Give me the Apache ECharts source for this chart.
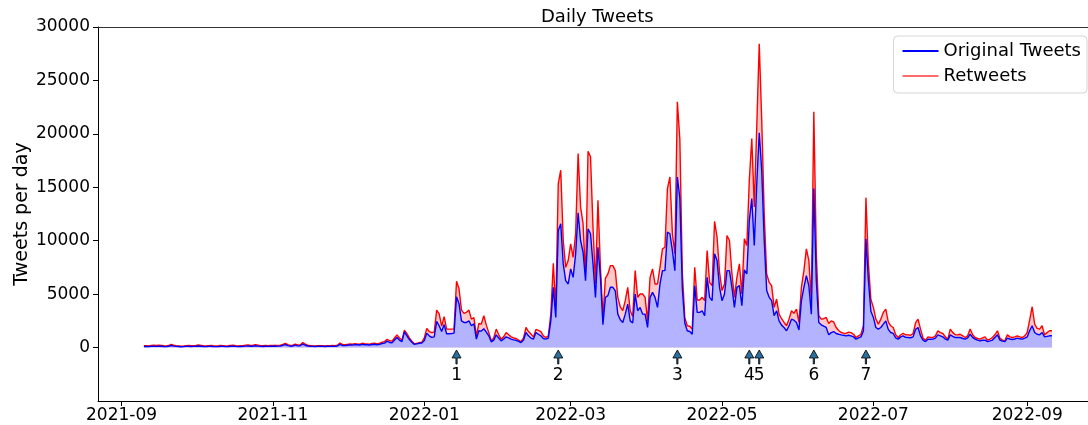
<!DOCTYPE html>
<html>
<head>
<meta charset="utf-8">
<script src="https://cdn.jsdelivr.net/npm/echarts@6/dist/echarts.min.js"></script>
<style>
html,body{margin:0;padding:0;background:#fff;}
#chart{width:1088px;height:425px;}
</style>
</head>
<body>
<div id="chart"></div>
<script>
// ---- data (daily, starting 2021-09-10) ----
const startDate = '2021-09-10';

// Original tweets per day (blue line)
const originalSep21 = [100,110,90,120,130,110,140,130,100,90,120,190,140,110,100,80,90,110,120,100,110];
const originalOct21 = [120,150,130,100,90,110,130,100,90,100,120,110,90,100,120,130,110,90,100,110,140,150,120,130,170,140,110,100,120,110,130];
const originalNov21 = [130,120,140,150,200,280,180,130,150,230,160,170,330,220,150,120,110,100,110,120,110,100,120,110,130,110,150,300,200,180];
const originalDec21 = [220,250,230,280,260,240,300,270,260,240,290,310,260,300,380,420,600,480,450,700,940,700,560,1470,1100,750,500,300,350,400,420];
const originalJan22 = [650,1350,1100,950,1000,2450,2040,1500,2150,1290,1300,1320,1350,4760,4100,2500,2350,2350,2500,2040,2230,790,1570,1540,1760,1450,1100,540,700,1190,900];
const originalFeb22 = [630,800,1000,900,790,720,680,580,470,700,1410,1100,890,800,1400,1250,1100,850,790,880,2500,5640,2820,10960,11590,7830,6260,5950];
const originalMar22 = [7360,6570,8770,12620,10020,8920,6260,11120,10650,7830,4700,9390,6570,2130,4700,4860,5640,5640,5300,3130,2600,2350,3130,4070,2500,2300,5010,3450,3760,3130,3130];
const originalApr22 = [1880,4700,5170,4700,3760,5950,7200,7200,10800,10650,9080,7200,15970,14000,5500,2300,1570,1500,1250,5790,3290,3290,3450,2980,6570,4700,4390,8770,8140,5640];
const originalMay22 = [4390,5010,7200,7200,5640,3760,5640,5790,3920,7270,6890,11900,13940,9550,15350,20100,16600,10020,5330,4700,4390,2980,3450,2500,2100,1880,1570,2040,2660,2560,2350];
const originalJun22 = [1650,4390,5640,6730,5790,3130,14880,6260,2350,2130,2000,1880,1190,1400,1500,1320,1250,1190,1150,1100,1150,1100,1000,790,900,1000,1570,10180,6260,3400];
const originalJul22 = [2820,1880,1730,1880,2190,2500,1700,1410,1320,900,790,1000,1100,950,940,920,1000,1700,1880,1100,700,560,790,780,790,880,1190,1100,1000,800,700];
const originalAug22 = [1190,1050,940,940,940,850,790,900,1250,950,790,700,630,680,700,560,620,700,950,1190,700,600,560,880,800,750,800,880,820,790,880];
const originalSep22 = [1000,1600,2040,1410,1250,1190,1410,1000,1050,1100,1100];

// Red line (original + retweets) per day
const retweetSep21 = [170,180,160,200,230,190,230,210,170,150,190,290,220,180,160,140,150,180,200,170,180];
const retweetOct21 = [190,240,210,170,150,180,210,170,150,170,200,180,150,170,200,220,180,150,170,180,230,250,200,220,280,230,180,170,200,180,210];
const retweetNov21 = [200,190,210,230,290,400,270,200,220,330,240,250,470,320,230,190,170,160,170,180,170,160,180,170,200,170,220,420,290,270];
const retweetDec21 = [300,330,310,370,340,320,400,360,340,320,380,410,350,400,500,560,780,640,600,900,1190,900,700,1630,1300,900,600,350,400,470,500];
const retweetJan22 = [900,1800,1500,1400,1450,3500,3160,2000,2900,1730,1730,1730,1750,6200,5500,3500,3200,3300,3510,2660,2800,1100,2250,2200,2980,2100,1400,630,900,1730,1200];
const retweetFeb22 = [790,1000,1410,1200,1000,900,850,700,560,900,1880,1500,1260,1000,1700,1600,1500,1100,940,1100,3130,7890,3600,15350,16600,10020,7510,8140];
const retweetMar22 = [9710,8450,10650,18160,13150,11590,6570,18380,17850,11270,5950,13780,7510,2820,6480,6890,7670,7670,7200,4700,3800,3450,4390,5640,3450,2900,7200,4700,5010,5010,4700];
const retweetApr22 = [2500,6570,7360,5950,5950,7510,9240,9390,14880,15970,10650,8770,23010,19500,7000,2800,2040,2000,1730,7510,4450,4450,4700,4390,9080,6100,5790,11810,10330,7050];
const retweetMay22 = [5330,5950,10490,10020,6890,4700,6570,7830,5010,10180,9550,15660,19570,13150,20660,28430,21290,12530,6890,6100,5790,3760,4540,3130,2700,2350,2040,2660,3450,3200,3600];
const retweetJun22 = [2350,5640,7200,9240,8140,4390,22070,8770,2980,2660,2700,2820,2250,2500,2400,1880,1600,1410,1350,1320,1450,1400,1250,940,1100,1250,2040,14030,7830,4500];
const retweetJul22 = [3760,2660,2190,2660,3290,3600,2400,2040,1880,1200,940,1200,1320,1200,1190,1150,1300,2300,2660,1730,900,690,1000,950,940,1100,1570,1400,1320,1000,790];
const retweetAug22 = [1730,1400,1190,1200,1250,1100,940,1100,1730,1200,940,850,790,900,1000,690,800,940,1200,1570,880,700,630,1190,1000,940,1000,1100,1000,940,1100];
const retweetSep22 = [1410,2600,3820,2190,1800,1730,2040,1190,1400,1570,1570];

const xTickLabels = ['2021-09','2021-11','2022-01','2022-03','2022-05','2022-07','2022-09'];
const yTickValues = [0,5000,10000,15000,20000,25000,30000];

const annotationDates = ['2022-01-14','2022-02-24','2022-04-13','2022-05-12','2022-05-16','2022-06-07','2022-06-28'];
const annotationLabels = ['1','2','3','4','5','6','7'];

// ---- build ----
const DAY = 86400000;
function utc(s){ const p = s.split('-').map(Number); return Date.UTC(p[0], p[1]-1, p[2] || 1); }

const originalTweets = [].concat(originalSep21, originalOct21, originalNov21, originalDec21, originalJan22,
  originalFeb22, originalMar22, originalApr22, originalMay22, originalJun22, originalJul22, originalAug22, originalSep22);
const retweetLine = [].concat(retweetSep21, retweetOct21, retweetNov21, retweetDec21, retweetJan22,
  retweetFeb22, retweetMar22, retweetApr22, retweetMay22, retweetJun22, retweetJul22, retweetAug22, retweetSep22);

const t0 = utc(startDate);
const dates = originalTweets.map((_, i) => t0 + i * DAY);
const xTickValues = xTickLabels.map(utc);

const X_MIN = Date.UTC(2021, 7, 22, 12);
const X_MAX = Date.UTC(2022, 8, 25, 12);

const FONT = 'DejaVu Sans';
const chart = echarts.init(document.getElementById('chart'), null, {renderer: 'canvas'});

const option = {
  animation: false,
  backgroundColor: '#fff',
  title: {
    text: 'Daily Tweets',
    left: 536, top: 3,
    textStyle: {fontFamily: FONT, fontSize: 18, fontWeight: 'normal', color: '#000'}
  },
  legend: {
    orient: 'vertical',
    right: 1, top: 36,
    padding: [6, 6, 8, 8],
    itemGap: 7,
    itemWidth: 36,
    itemHeight: 14,
    itemTextGap: 14,
    borderColor: '#d4d4d4',
    borderWidth: 1,
    borderRadius: 4,
    backgroundColor: 'rgba(255,255,255,0.8)',
    textStyle: {fontFamily: FONT, fontSize: 18, color: '#000', lineHeight: 18},
    data: [
      {name: 'Original Tweets', lineStyle: {color: '#0000ff', width: 2}, itemStyle: {color: '#0000ff', opacity: 0}},
      {name: 'Retweets', lineStyle: {color: '#ff6b6b', width: 2}, itemStyle: {color: '#ff6b6b', opacity: 0}}
    ]
  },
  grid: {
    left: 98, right: 0, top: 27, bottom: 24
  },
  xAxis: [
    {
      type: 'value',
      min: X_MIN, max: X_MAX,
      axisLine: {show: true, onZero: false, lineStyle: {color: '#000', width: 1}},
      axisTick: {show: true, length: 5, lineStyle: {color: '#000'}, customValues: xTickValues},
      axisLabel: {
        customValues: xTickValues,
        margin: 6,
        fontFamily: FONT, fontSize: 17, color: '#000',
        formatter: function (v) {
          const d = new Date(v);
          const m = d.getUTCMonth() + 1;
          return d.getUTCFullYear() + '-' + (m < 10 ? '0' + m : m);
        }
      },
      splitLine: {show: false}
    },
    {
      type: 'value',
      position: 'top',
      min: X_MIN, max: X_MAX,
      axisLine: {show: true, onZero: false, lineStyle: {color: '#333', width: 1}},
      axisTick: {show: false},
      axisLabel: {show: false},
      splitLine: {show: false}
    }
  ],
  yAxis: {
    type: 'value',
    min: -5000, max: 30000, interval: 5000,
    name: 'Tweets per day',
    nameLocation: 'middle',
    nameGap: 66,
    nameMoveOverlap: false,
    nameTextStyle: {fontFamily: FONT, fontSize: 19, color: '#000'},
    axisLine: {show: true, onZero: false, lineStyle: {color: '#000', width: 1}},
    axisTick: {show: true, length: 5, lineStyle: {color: '#000'}, customValues: yTickValues},
    axisLabel: {
      customValues: yTickValues, margin: 8,
      fontFamily: FONT, fontSize: 17, color: '#000',
      formatter: v => String(v)
    },
    splitLine: {show: false}
  },
  series: [
    {
      name: 'Retweets',
      type: 'line',
      data: dates.map((t, i) => [t, retweetLine[i]]),
      symbol: 'none', showSymbol: false,
      lineStyle: {color: '#ff0000', width: 1.4},
      itemStyle: {color: '#ff0000'},
      areaStyle: {color: 'rgba(255,0,0,0.3)', origin: 0},
      z: 2
    },
    {
      name: 'Original Tweets',
      type: 'line',
      data: dates.map((t, i) => [t, originalTweets[i]]),
      symbol: 'none', showSymbol: false,
      lineStyle: {color: '#0000ff', width: 1.4},
      itemStyle: {color: '#0000ff'},
      areaStyle: {color: '#b3b3ff', opacity: 1, origin: 0},
      z: 3
    },
    {
      name: 'events',
      type: 'scatter',
      data: annotationDates.map((d, i) => [utc(d), -880, annotationLabels[i]]),
      symbol: 'path://M4.5,0 L9,8 L5.1,8 L5.1,14 L3.9,14 L3.9,8 L0,8 Z',
      symbolSize: [9, 14],
      itemStyle: {color: '#2a6f9e', borderColor: '#000', borderWidth: 0.8, opacity: 1},
      label: {
        show: true, position: 'bottom', distance: 3,
        formatter: p => p.value[2],
        fontFamily: FONT, fontSize: 17, color: '#000'
      },
      silent: true,
      z: 4
    }
  ]
};
chart.setOption(option);
</script>
</body>
</html>
